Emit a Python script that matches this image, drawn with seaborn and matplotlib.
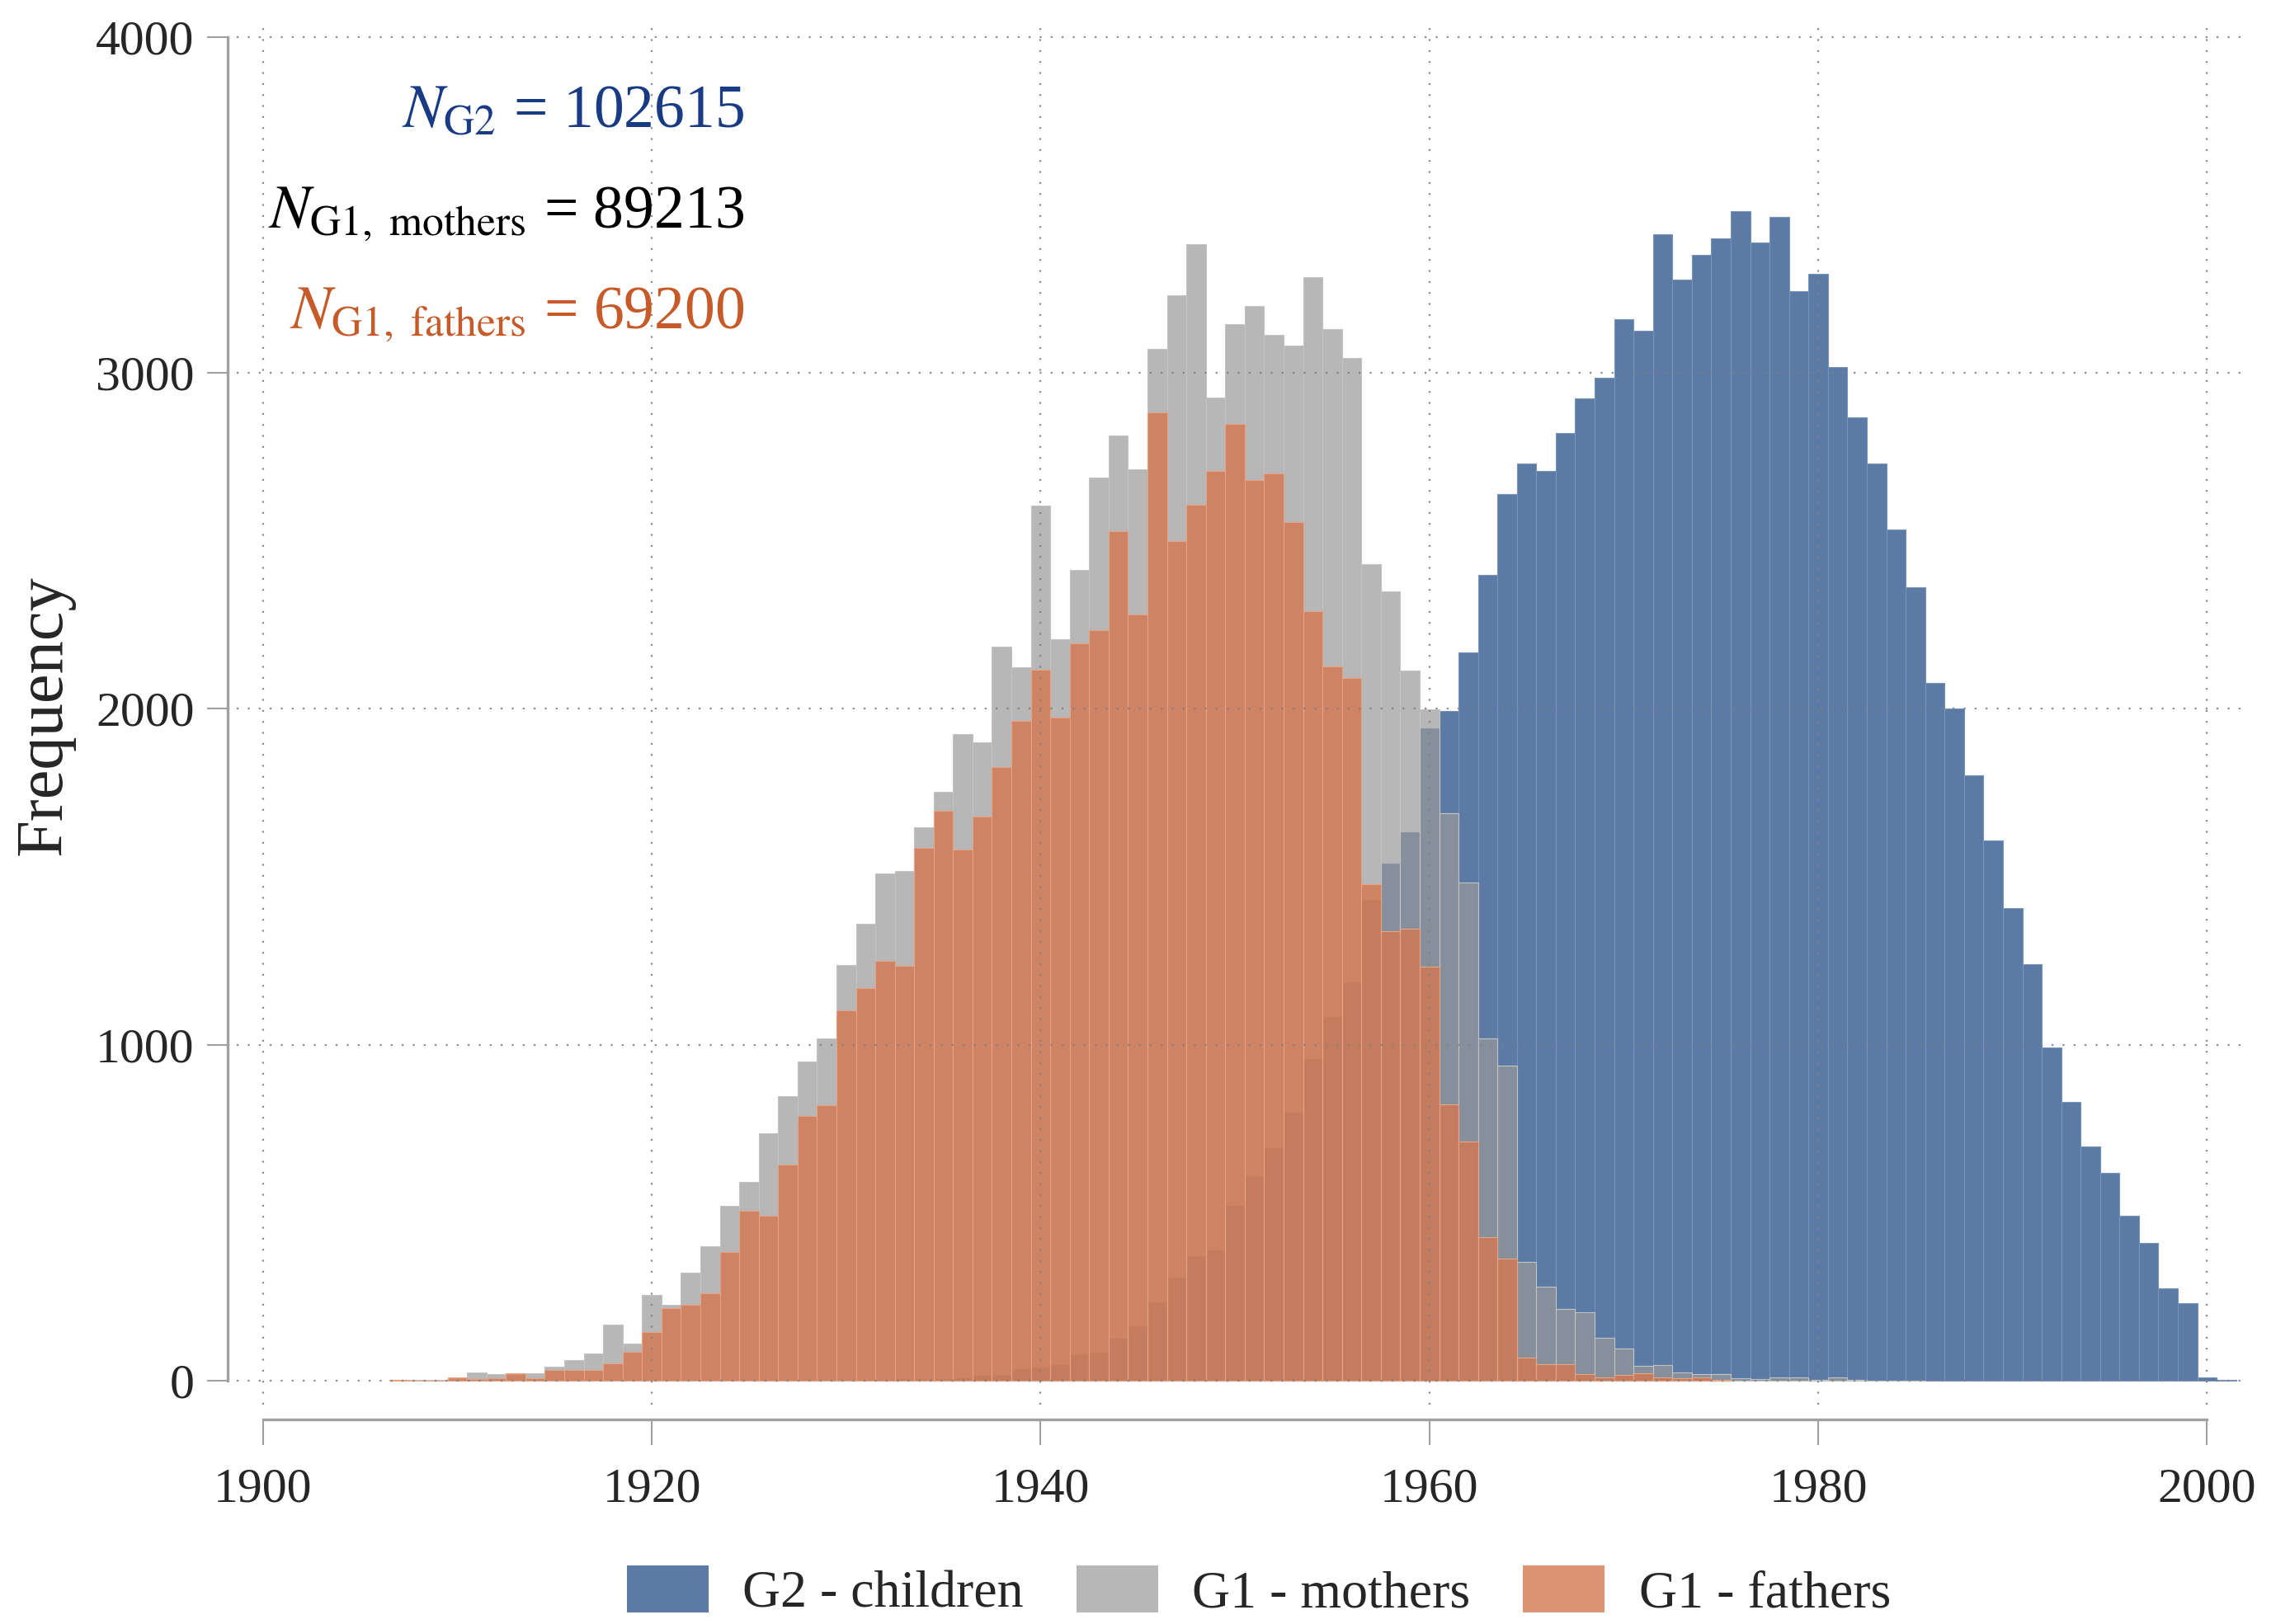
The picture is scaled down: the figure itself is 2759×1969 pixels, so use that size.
import numpy as np
import pandas as pd
import matplotlib
matplotlib.use("Agg")
import matplotlib.pyplot as plt
from matplotlib.patches import Patch
import seaborn as sns

# Birth-year frequencies, one bar per year
children_start = 1932
children_counts = [3, 4, 5, 6, 8, 15, 17, 35, 39, 47, 78, 84, 125,
                   161, 234, 306, 370, 388, 520, 608, 692, 797, 958,
                   1083, 1187, 1432, 1539, 1632, 1942, 1993, 2167, 2398, 2640,
                   2731, 2709, 2822, 2925, 2985, 3159, 3126, 3412, 3277, 3352,
                   3401, 3481, 3389, 3464, 3244, 3295, 3018, 2868, 2729, 2534,
                   2363, 2078, 2001, 1803, 1607, 1406, 1239, 993, 829, 697,
                   618, 490, 411, 275, 232, 10, 3]

mothers_start = 1907
mothers_counts = [2, 2, 2, 5, 25, 20, 18, 22, 43, 61, 82, 168, 110,
                  256, 225, 321, 400, 521, 591, 736, 847, 950, 1018,
                  1237, 1360, 1509, 1517, 1648, 1754, 1926, 1901, 2184, 2124,
                  2604, 2206, 2413, 2689, 2814, 2713, 3071, 3230, 3384, 2926,
                  3146, 3198, 3112, 3080, 3285, 3130, 3044, 2431, 2349, 2113,
                  1998, 1689, 1484, 1018, 939, 353, 281, 213, 203, 129,
                  95, 45, 47, 25, 20, 19, 7, 6, 11, 10, 2, 10, 2, 1, 1, 1]

fathers_start = 1907
fathers_counts = [3, 1, 1, 10, 6, 7, 23, 8, 31, 33, 31, 51, 86,
                  144, 215, 225, 261, 384, 507, 490, 643, 788, 821,
                  1102, 1169, 1249, 1234, 1586, 1697, 1580, 1680, 1826, 1965,
                  2116, 1973, 2194, 2233, 2530, 2281, 2883, 2499, 2608, 2708,
                  2849, 2681, 2701, 2556, 2290, 2127, 2093, 1478, 1339, 1346,
                  1233, 822, 711, 428, 364, 68, 50, 50, 19, 9,
                  17, 22, 11, 7, 9, 2]

group_labels = ["G2 - children", "G1 - mothers", "G1 - fathers"]
n_texts = [r"$N_{\mathrm{G2}}$ = 102615",
           r"$N_{\mathrm{G1,\ mothers}}$ = 89213",
           r"$N_{\mathrm{G1,\ fathers}}$ = 69200"]
x_ticks = [1900, 1920, 1940, 1960, 1980, 2000]
y_ticks = [0, 1000, 2000, 3000, 4000]

# Colours (bar colour, opacity, edge) and the flat legend swatches
bar_colors = ["#5b7ba6", "#999999", "#d4784f"]
bar_alpha = [1.0, 0.7, 0.8]
edge_colors = ["#7a93b8", "#c4c4c4", "#e6a486"]
legend_colors = ["#5b7ba6", "#b7b7b7", "#dd9474"]
text_colors = ["#183b84", "#000000", "#c65a28"]

frames = []
for label, start, counts in zip(group_labels,
                                [children_start, mothers_start, fathers_start],
                                [children_counts, mothers_counts, fathers_counts]):
    frames.append(pd.DataFrame({"year": np.arange(start, start + len(counts)),
                                "count": counts, "group": label}))
df = pd.concat(frames, ignore_index=True)

sns.set_style("white")
plt.rcParams["font.family"] = ["Liberation Serif", "DejaVu Serif"]
plt.rcParams["mathtext.fontset"] = "stix"

fig = plt.figure(figsize=(27.59, 19.69), dpi=100)
ax = fig.add_axes([0.104, 0.1351, 0.8815, 0.8486])

for i, label in enumerate(group_labels):
    sns.histplot(data=df[df["group"] == label], x="year", weights="count",
                 discrete=True, color=bar_colors[i], alpha=bar_alpha[i],
                 edgecolor=edge_colors[i], linewidth=0.8, ax=ax)

ax.set_xlim(1898.65, 2001.85)
ax.set_ylim(-71, 4031)
ax.set_xticks(x_ticks)
ax.set_yticks(y_ticks)
ax.set_xticklabels([str(t) for t in x_ticks])
ax.set_yticklabels([str(t) for t in y_ticks])
ax.set_xlabel("")
ax.set_ylabel("Frequency", fontsize=58, labelpad=18)

ax.set_axisbelow(False)
ax.grid(True, linestyle=(0, (1, 5)), linewidth=1.6, color="#808080", alpha=0.9)

for side in ["top", "right"]:
    ax.spines[side].set_visible(False)
ax.spines["left"].set_position(("outward", 8))
ax.spines["bottom"].set_position(("outward", 13))
ax.spines["left"].set_bounds(0, 4000)
ax.spines["bottom"].set_bounds(1900, 2000)
for side in ["left", "bottom"]:
    ax.spines[side].set_color("#a0a0a0")
    ax.spines[side].set_linewidth(2.4)

ax.tick_params(axis="y", length=18, width=1.5, color="#a0a0a0", pad=11,
               labelsize=43, left=True)
ax.tick_params(axis="x", length=22, width=1.5, color="#a0a0a0", pad=20,
               labelsize=43, bottom=True)

# Sample sizes in the upper left
for txt, col, yb in zip(n_texts, text_colors, [0.9213, 0.8598, 0.7979]):
    fig.text(0.327, yb, txt, ha="right", va="baseline", fontsize=53, color=col)

handles = [Patch(facecolor=c, edgecolor="none") for c in legend_colors]
fig.legend(handles, group_labels, loc="upper center",
           bbox_to_anchor=(0.553, 1 - 1866 / 1969), ncol=3, frameon=False,
           fontsize=46, handlelength=1.55, handleheight=1.0,
           handletextpad=0.65, columnspacing=1.0, borderpad=0)

fig.savefig("out.png", dpi=100)
